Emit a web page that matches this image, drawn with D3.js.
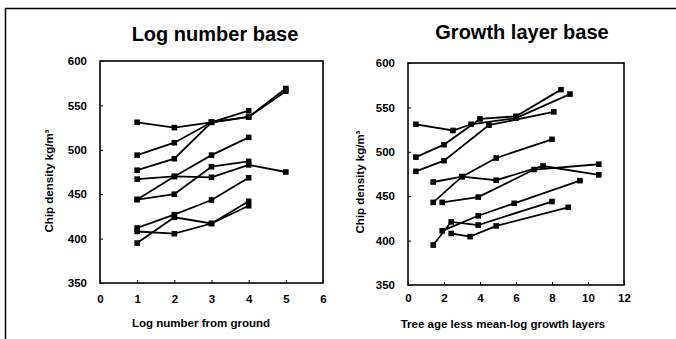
<!DOCTYPE html>
<html lang="en">
<head>
<meta charset="UTF-8">
<title>Chip density</title>
<script src="https://d3js.org/d3.v7.min.js"></script>
<style>
    body { margin: 0; background: white; }
    svg { display: block; font-family: "Liberation Sans", Arial, sans-serif; }
    .title { font-size: 20px; font-weight: bold; }
    .axlabel { font-size: 11.5px; font-weight: bold; }
    .tick text { font-size: 11.5px; font-weight: bold; }
    .series { fill: none; stroke: black; stroke-width: 1.8px; }
</style>
</head>
<body>
<svg id="canvas" width="676" height="339"></svg>
<script>
    // log number from ground -> chip density (one list per tree)
    let logNumbers = [1, 2, 3, 4, 5]
    let logSeries = [
        [531, 525, 531, 537, 566],
        [494, 508, 531, 537, 569],
        [477, 490, 531, 544],
        [467, 470, 469, 483, 475],
        [444, 470, 494, 514],
        [444, 450, 481, 487],
        [412, 427, 443.5, 468.5],
        [408, 405.5, 417, 437],
        [395, 424, 417, 442]
    ]

    // tree age less mean-log growth layers, per tree
    let growthX = [
        [0.44, 2.5, 3.5, 6.0, 9.0],
        [0.44, 2.0, 4.0, 6.0, 8.5],
        [0.44, 2.0, 4.5, 8.1],
        [1.4, 3.0, 4.9, 7.5, 10.6],
        [1.4, 3.0, 4.9, 8.0],
        [1.9, 3.9, 7.0, 10.6],
        [1.9, 3.9, 5.9, 9.55],
        [2.4, 3.45, 4.9, 8.9],
        [1.4, 2.4, 3.9, 8.0]
    ]
    let growthY = [
        [531, 524, 531, 538, 565],
        [494, 508, 537, 540, 570],
        [478, 490, 530, 545],
        [466, 472, 468, 484, 474],
        [443, 472, 493, 514],
        [443, 449, 480, 486],
        [411, 428, 442, 467.5],
        [408, 404.5, 416.5, 437.5],
        [395, 421, 417.5, 444]
    ]

    let yTicks = [350, 400, 450, 500, 550, 600]
    let logTicks = [0, 1, 2, 3, 4, 5, 6]
    let growthTicks = [0, 2, 4, 6, 8, 10, 12]

    let svg = d3.select('svg')

    // outer frame (left and top edges only show)
    svg.append('path')
        .attr('d', 'M5.5,339 V8.5 H676')
        .attr('fill', 'none')
        .attr('stroke', 'black')
        .attr('stroke-width', 1.5)

    function panel(opt) {
        let x = d3.scaleLinear().domain(opt.xDomain).range([opt.left, opt.right])
        let y = d3.scaleLinear().domain([350, 600]).range([opt.bottom, opt.top])
        let g = svg.append('g')

        g.append('rect')
            .attr('x', opt.left).attr('y', opt.top)
            .attr('width', opt.right - opt.left).attr('height', opt.bottom - opt.top)
            .attr('fill', 'none').attr('stroke', 'black').attr('stroke-width', 1.6)

        g.append('g')
            .attr('transform', 'translate(' + opt.left + ',0)')
            .call(d3.axisLeft(y).tickValues(yTicks).tickFormat(d3.format('d'))
                .tickSizeInner(-3).tickSizeOuter(0).tickPadding(13))
            .call(a => a.select('.domain').remove())
        g.append('g')
            .attr('transform', 'translate(0,' + opt.bottom + ')')
            .call(d3.axisBottom(x).tickValues(opt.ticks).tickFormat(d3.format('d'))
                .tickSizeInner(-3).tickSizeOuter(0).tickPadding(opt.xPad))
            .call(a => a.select('.domain').remove())
        g.selectAll('.tick line').attr('stroke', 'black').attr('stroke-width', 1)
        g.selectAll('.tick text').attr('fill', 'black')

        let line = d3.line().x(d => x(d[0])).y(d => y(d[1]))
        opt.series.forEach(function (pts) {
            g.append('path').attr('class', 'series').attr('d', line(pts))
            g.selectAll(null).data(pts).enter().append('rect')
                .attr('x', d => x(d[0]) - 2.8).attr('y', d => y(d[1]) - 2.8)
                .attr('width', 5.6).attr('height', 5.6)
                .attr('fill', 'black')
        })

        g.append('text').attr('class', 'title')
            .attr('x', opt.titleX).attr('y', opt.titleY)
            .attr('text-anchor', 'middle').text(opt.title)
        g.append('text').attr('class', 'axlabel')
            .attr('x', opt.xLabelX).attr('y', opt.xLabelY)
            .attr('text-anchor', 'middle').text(opt.xLabel)
        g.append('text').attr('class', 'axlabel')
            .attr('transform', 'translate(' + opt.yLabelX + ',' + opt.yLabelY + ') rotate(-90)')
            .attr('text-anchor', 'middle').text('Chip density kg/m³')
    }

    panel({
        left: 100, right: 323, top: 61, bottom: 283,
        xDomain: [0, 6], ticks: logTicks, xPad: 12,
        series: logSeries.map(s => s.map((v, i) => [logNumbers[i], v])),
        title: 'Log number base', titleX: 215, titleY: 41,
        xLabel: 'Log number from ground', xLabelX: 201, xLabelY: 327,
        yLabelX: 53, yLabelY: 181
    })

    panel({
        left: 408, right: 624, top: 63, bottom: 285,
        xDomain: [0, 12], ticks: growthTicks, xPad: 9,
        series: growthY.map((s, k) => s.map((v, i) => [growthX[k][i], v])),
        title: 'Growth layer base', titleX: 522, titleY: 39,
        xLabel: 'Tree age less mean-log growth layers', xLabelX: 503, xLabelY: 328,
        yLabelX: 364, yLabelY: 182
    })
</script>
</body>
</html>
